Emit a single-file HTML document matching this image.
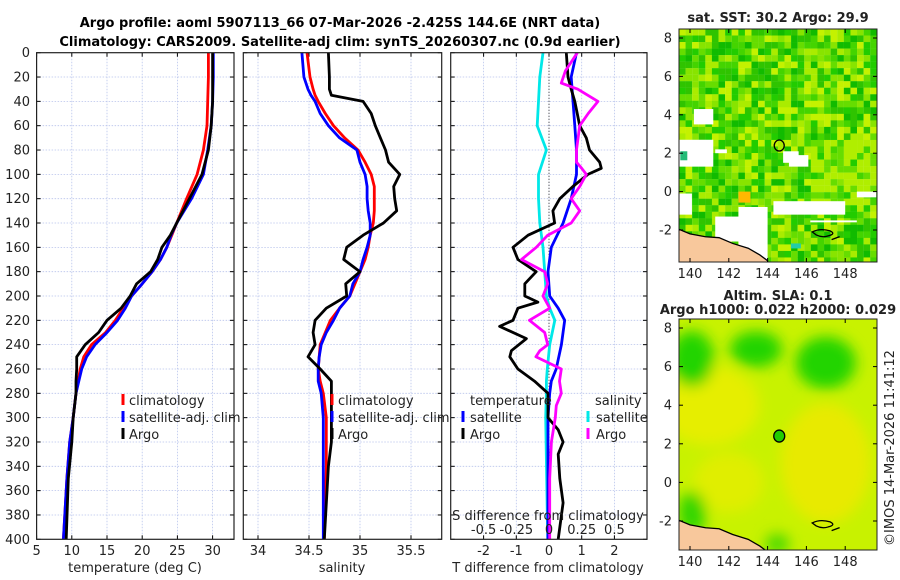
<!DOCTYPE html>
<html><head><meta charset="utf-8"><style>
html,body{margin:0;padding:0;background:#fff;}
svg{display:block;font-family:"DejaVu Sans","Liberation Sans",sans-serif;}
</style></head><body>
<svg id="fig" width="900" height="580" viewBox="0 0 900 580" xmlns="http://www.w3.org/2000/svg">
<defs>
<clipPath id="c1"><rect x="36.6" y="52.7" width="197.4" height="486.6"/></clipPath>
<clipPath id="c2"><rect x="243.3" y="52.7" width="198.4" height="486.6"/></clipPath>
<clipPath id="c3"><rect x="450.7" y="52.7" width="196.3" height="486.6"/></clipPath>
<clipPath id="cm1"><rect x="679" y="29" width="198" height="233"/></clipPath>
<clipPath id="cm2"><rect x="679" y="319" width="198" height="231"/></clipPath>
<filter id="blur" x="-50%" y="-50%" width="200%" height="200%"><feGaussianBlur stdDeviation="7"/></filter>
</defs>
<text x="340" y="27" text-anchor="middle" font-size="13" font-weight="bold">Argo profile: aoml 5907113_66 07-Mar-2026 -2.425S 144.6E (NRT data)</text>
<text x="340" y="46" text-anchor="middle" font-size="13" font-weight="bold">Climatology: CARS2009. Satellite-adj clim: synTS_20260307.nc (0.9d earlier)</text>
<g id="g"></g>
</svg>
<script>
// ---- data ----
const depthsT = [0,20,40,60,80,100,120,140,150,160,170,180,190,200,210,220,230,240,250,260,270,280,300,320,350,400];
const tempClim = [29.4,29.4,29.3,29.2,28.7,27.8,26.3,24.9,24.2,23.5,22.6,21.4,20.0,18.5,17.3,16.2,14.8,12.8,11.7,11.2,10.9,10.6,10.2,9.7,9.3,8.8];
const tempSat = [30.1,30.1,30.0,29.8,29.3,28.7,27.0,24.9,24.1,23.5,22.6,21.4,20.0,18.5,17.6,16.5,15.0,13.3,12.1,11.4,11.0,10.6,10.2,9.7,9.3,8.8];
const tempArgo = [30.0,30.0,30.0,29.8,29.4,28.5,26.7,24.9,24.0,22.8,22.2,21.2,19.2,18.3,17.0,15.0,13.8,11.9,10.7,10.7,10.6,10.6,10.2,10.0,9.5,9.2];
const depthsS = [0,20,30,35,40,50,60,70,80,90,100,110,120,130,140,150,160,170,180,190,200,210,220,230,240,250,260,270,280,300,320,340,400];
const salArgo = [34.69,34.70,34.70,34.72,35.03,35.11,35.15,35.20,35.25,35.28,35.39,35.33,35.34,35.36,35.23,35.03,34.87,34.84,35.0,34.86,34.87,34.67,34.56,34.54,34.56,34.49,34.61,34.72,34.72,34.72,34.72,34.69,34.65];
const salClim = [34.48,34.51,34.54,34.56,34.59,34.66,34.74,34.85,34.98,35.05,35.11,35.14,35.14,35.14,35.13,35.10,35.08,35.05,35.0,34.95,34.90,34.80,34.71,34.66,34.61,34.60,34.59,34.61,34.64,34.67,34.67,34.67,34.65];
const salSat = [34.43,34.45,34.49,34.52,34.56,34.61,34.69,34.80,34.97,35.0,35.05,35.07,35.07,35.08,35.10,35.10,35.07,35.03,35.0,34.93,34.90,34.80,34.74,34.67,34.62,34.60,34.59,34.59,34.62,34.64,34.64,34.64,34.64];
const depthsDS = [0,20,60,80,100,120,140,160,180,200,210,220,240,260,270,280,300,400];
const dTSat = [0.84,0.68,0.79,0.84,0.84,0.68,0.43,0.07,-0.03,0.02,0.28,0.48,0.38,0.22,0.07,0.02,-0.03,-0.03];
const dSSat = [-0.046,-0.07,-0.09,-0.02,-0.08,-0.08,-0.07,-0.046,-0.033,-0.02,0.005,0.044,0.005,-0.013,-0.02,-0.02,-0.025,-0.01];
const depthsDTA = [0,20,30,40,60,70,80,90,95,100,110,120,130,140,150,160,170,180,190,200,205,210,220,225,235,245,250,260,270,280,300,310,320,330,350,370,400];
const dTArgo = [0.53,0.58,0.68,0.79,0.94,1.14,1.24,1.55,1.60,1.19,0.73,0.33,0.12,0.17,-0.64,-1.10,-0.95,-0.39,-0.74,-0.74,-0.34,-0.95,-1.10,-1.51,-0.69,-1.15,-1.20,-0.95,-0.44,-0.03,-0.03,0.28,0.43,0.28,0.33,0.43,0.28];
const depthsDSA = [0,15,25,30,40,50,60,80,90,95,100,110,120,130,140,150,160,170,180,190,200,210,220,230,240,245,250,260,270,280,290,300,320,350,400];
const dSArgo = [0.217,0.125,0.094,0.22,0.375,0.30,0.235,0.21,0.21,0.25,0.285,0.235,0.17,0.235,0.17,-0.01,-0.097,-0.21,-0.033,-0.01,-0.046,0.005,-0.15,-0.033,-0.01,-0.07,-0.1,0.094,0.08,0.094,0.056,0.048,0.018,0.005,0.005];
const depthTicks = [0,20,40,60,80,100,120,140,160,180,200,220,240,260,280,300,320,340,360,380,400];
const tempTicks = [5,10,15,20,25,30];
const salTicks = [34,34.5,35,35.5];
const dTTicks = [-2,-1,0,1,2];
const dSTicks = [-0.5,-0.25,0,0.25,0.5];
const dSTickLabels = ["-0.5","-0.25","0","0.25","0.5"];
const lonTicks = [140,142,144,146,148];
const latTicks = [8,6,4,2,0,-2];
const argoLon = 144.6, argoLat = 2.4;

const NS="http://www.w3.org/2000/svg";
const G=document.getElementById('g');
function el(t,a,p){const e=document.createElementNS(NS,t);for(const k in a)e.setAttribute(k,a[k]);(p||G).appendChild(e);return e;}
function txt(x,y,s,a,p){const e=el('text',Object.assign({x:x,y:y,'font-size':13,fill:'#222'},a||{}),p);e.textContent=s;return e;}

const yTop=52.7, yBot=539.3;
const yD=d=>yTop+d*(yBot-yTop)/400;
const xT=v=>36.6+(v-5)*7.04;
const xS=v=>258+(v-34)*102;
const xDT=v=>549+v*32.7;
const xDS=v=>549+v*130.8;

function panel(name,x0,x1,xticks,xf,showDepthLabels){
  const g=el('g',{}); 
  
  
  depthTicks.forEach(d=>{const y=yD(d);
    if(d>0&&d<400) el('line',{x1:x0,x2:x1,y1:y,y2:y,stroke:'#b8c4ec','stroke-width':0.8,'stroke-dasharray':'1.5,1.5'},g);
    el('line',{x1:x0,x2:x0+4,y1:y,y2:y,stroke:'#000'},g);
    el('line',{x1:x1-4,x2:x1,y1:y,y2:y,stroke:'#000'},g);
    if(showDepthLabels){const t=txt(30,y+4.5,String(d),{'text-anchor':'end'},g);
      }
  });
  xticks.forEach(v=>{const x=xf(v);
    el('line',{x1:x,x2:x,y1:yTop,y2:yBot,stroke:'#b8c4ec','stroke-width':0.8,'stroke-dasharray':'1.5,1.5'},g);
    el('line',{x1:x,x2:x,y1:yBot-4,y2:yBot,stroke:'#000'},g);
    el('line',{x1:x,x2:x,y1:yTop,y2:yTop+4,stroke:'#000'},g);
  });
  return g;
}
function box(x0,x1,name){const r=el('rect',{x:x0,y:yTop,width:x1-x0,height:yBot-yTop,fill:'none',stroke:'#222','stroke-width':1.2});
  }
function line(depths,vals,xf,color,clip,name){
  const d=depths.map((dd,i)=>(i?'L':'M')+xf(vals[i]).toFixed(1)+','+yD(dd).toFixed(1)).join(' ');
  const p=el('path',{d:d,fill:'none',stroke:color,'stroke-width':2.8,'stroke-linejoin':'round','clip-path':'url(#'+clip+')'});
  
  
}
// Panel 1
panel('temperature',36.6,234,tempTicks,xT,true);
tempTicks.forEach(v=>{const t=txt(xT(v),555,String(v),{'text-anchor':'middle'});});
line(depthsT,tempClim,xT,'#ff0000','c1','temp-climatology-line');
line(depthsT,tempSat,xT,'#0000ff','c1','temp-satellite-line');
line(depthsT,tempArgo,xT,'#000','c1','temp-argo-line');
box(36.6,234,'temperature');
let t=txt(135,572,'temperature (deg C)',{'text-anchor':'middle'});
// Panel 2
panel('salinity',243.3,441.7,salTicks,xS,false);
salTicks.forEach(v=>{const t=txt(xS(v),555,String(v),{'text-anchor':'middle'});});
line(depthsS,salClim,xS,'#ff0000','c2','sal-climatology-line');
line(depthsS,salSat,xS,'#0000ff','c2','sal-satellite-line');
line(depthsS,salArgo,xS,'#000','c2','sal-argo-line');
box(243.3,441.7,'salinity');
t=txt(342,572,'salinity',{'text-anchor':'middle'});
// Panel 3
panel('difference',450.7,647,dTTicks,xDT,false);
el('line',{x1:549,x2:549,y1:yTop,y2:yBot,stroke:'#333','stroke-width':1,'stroke-dasharray':'1,2'});
line(depthsDS,dSSat,xDS,'#00e8e8','c3','sdiff-satellite-line');
line(depthsDS,dTSat,xDT,'#0000ff','c3','tdiff-satellite-line');
line(depthsDTA,dTArgo,xDT,'#000','c3','tdiff-argo-line');
line(depthsDSA,dSArgo,xDS,'#ff00ff','c3','sdiff-argo-line');
box(450.7,647,'difference');
dTTicks.forEach(v=>{const t=txt(xDT(v),555,String(v),{'text-anchor':'middle'});});
dSTicks.forEach((v,i)=>{const t=txt(xDS(v),534,dSTickLabels[i],{'text-anchor':'middle'});});
t=txt(548,520,'S difference from climatology',{'text-anchor':'middle'});
t=txt(548,572,'T difference from climatology',{'text-anchor':'middle'});

// legends
function legItem(mx,tx,y,color,label,name){
  const g=el('g',{});
  el('rect',{x:mx-1.5,y:y-11,width:3,height:11,fill:color},g);
  txt(tx,y,label,{},g);
}
legItem(123,129,405,'#ff0000','climatology','legend-climatology');
legItem(123,129,422,'#0000ff','satellite-adj. clim','legend-satellite-adj');
legItem(123,129,439,'#000','Argo','legend-argo');
legItem(332,338,405,'#ff0000','climatology','legend2-climatology');
legItem(332,338,422,'#0000ff','satellite-adj. clim','legend2-satellite-adj');
legItem(332,338,439,'#000','Argo','legend2-argo');
t=txt(470,405,'temperature');
legItem(463,470,422,'#0000ff','satellite','legend-t-satellite');
legItem(463,470,439,'#000','Argo','legend-t-argo');
t=txt(595,405,'salinity');
legItem(588,596,422,'#00e8e8','satellite','legend-s-satellite');
legItem(588,596,439,'#ff00ff','Argo','legend-s-argo');

// ---- maps ----
const mx=lon=>690+(lon-140)*19.4;
function hash(i,j,s){let h=(i*374761393+j*668265263+s*982451653)|0;h=(h^(h>>>13))*1274126177|0;return ((h^(h>>>16))>>>0)/4294967296;}
function mapFrame(top,yOf,name){
  const g=el('g',{});
  el('rect',{x:679,y:top,width:198,height:(name==='sst-map'?233:231),fill:'none',stroke:'#222','stroke-width':1},g);
  lonTicks.forEach(v=>{const x=mx(v);const b=top+(name==='sst-map'?233:231);
    el('line',{x1:x,x2:x,y1:b,y2:b-4,stroke:'#000'},g);el('line',{x1:x,x2:x,y1:top,y2:top+4,stroke:'#000'},g);
    txt(x,b+16,String(v),{'text-anchor':'middle'},g);});
  latTicks.forEach(v=>{const y=yOf(v);
    el('line',{x1:679,x2:683,y1:y,y2:y,stroke:'#000'},g);el('line',{x1:873,x2:877,y1:y,y2:y,stroke:'#000'},g);
    txt(672,y+4.5,String(v),{'text-anchor':'end'},g);});
}
// map 1 SST
const y1=lat=>38+(8-lat)*19.2;
const m1=el('g',{'clip-path':'url(#cm1)'});


const pal=['#22cc00','#44d400','#66dd00','#88e400','#aaec00','#c4f200','#2fc400','#11bb00'];
const holes=[[139.4,141.2,2.7,1.3],[140.2,141.2,4.3,3.5],[141.3,141.9,2.2,2.0],[141.3,142.5,-1.3,-2.6],[142.5,144.0,-0.8,-3.6],[144.3,148.0,-0.5,-1.2],[144.8,145.6,2.1,1.5],[145.1,146.1,1.9,1.3],[139.4,140.1,-0.1,-1.2],[148.6,149.6,0.0,-0.3],[146.2,148.6,-1.5,-1.6]];
for(let i=0;i<30;i++)for(let j=0;j<36;j++){
  const lon=139.43+i*0.34, lat=8.47-j*0.34;
  const h=hash(i,j,1);let c=pal[Math.floor(h*pal.length)];
  if(lon>146&&lat>-1&&lat<3&&h>0.4)c='#b0ee00';
  el('rect',{x:mx(lon),y:y1(lat),width:6.7,height:6.7,fill:c},m1);
}
holes.forEach(b=>el('rect',{x:mx(b[0]),y:y1(b[2]),width:(b[1]-b[0])*19.4,height:(b[2]-b[3])*19.2,fill:'#fff'},m1));
el('rect',{x:mx(142.5),y:y1(0.0),width:12,height:11,fill:'#ffb800'},m1);
el('rect',{x:mx(139.5),y:y1(2.1),width:7,height:9,fill:'#22bb77'},m1);
el('rect',{x:mx(145.2),y:y1(-2.7),width:10,height:5,fill:'#22ccaa'},m1);
function land(g,yf){
  const pts=[[139.4,-1.95],[140,-2.2],[140.8,-2.35],[141.5,-2.4],[142.2,-2.7],[143,-2.95],[143.6,-3.3],[144,-3.6],[144,-4],[139.4,-4]];
  el('path',{d:pts.map((p,i)=>(i?'L':'M')+mx(p[0])+','+yf(p[1])).join(' ')+'Z',fill:'#f8c89c',stroke:'#000','stroke-width':1.3},g);
  el('path',{d:'M'+mx(146.3)+','+yf(-2.1)+' q8,-4 18,-1 q6,3 -2,5 q-6,2 -12,-1 z M'+mx(147.3)+','+yf(-2.5)+' l8,-3',fill:'none',stroke:'#000','stroke-width':1.3},g);
}
land(m1,y1);
let c=el('ellipse',{cx:mx(argoLon),cy:y1(argoLat),rx:5,ry:5.5,fill:'none',stroke:'#000','stroke-width':1.3});

mapFrame(29,y1,'sst-map');
t=txt(778,22,'sat. SST: 30.2 Argo: 29.9',{'text-anchor':'middle','font-weight':'bold'});

// map 2 SLA
const y2=lat=>328+(8-lat)*19.3;
const m2=el('g',{'clip-path':'url(#cm2)'});


el('rect',{x:679,y:319,width:198,height:231,fill:'#c8f200'},m2);
const blobs=[[141,4,50,40,'#e6ee00'],[147,1,45,60,'#e8ea00'],[142,0,35,30,'#e0ee00'],[140.1,6.4,22,28,'#22d400'],[143.4,6.9,26,18,'#22d400'],[147,6.2,30,26,'#22d400'],[140.1,-1.6,14,22,'#33d600'],[144.5,-3.2,12,10,'#44d800']];
const bg=el('g',{filter:'url(#blur)'},m2);
blobs.forEach(b=>el('ellipse',{cx:mx(b[0]),cy:y2(b[1]),rx:b[2],ry:b[3],fill:b[4]},bg));
land(m2,y2);
c=el('ellipse',{cx:mx(argoLon),cy:y2(argoLat),rx:5.5,ry:6,fill:'#22cc00',stroke:'#000','stroke-width':1.3});

mapFrame(319,y2,'sla-map');
t=txt(778,300,'Altim. SLA: 0.1',{'text-anchor':'middle','font-weight':'bold'});
t=txt(778,314,'Argo h1000: 0.022 h2000: 0.029',{'text-anchor':'middle','font-weight':'bold'});
t=txt(0,0,'©IMOS 14-Mar-2026 11:41:12',{'text-anchor':'middle',transform:'translate(894,448) rotate(-90)'});
</script>
</body></html>
